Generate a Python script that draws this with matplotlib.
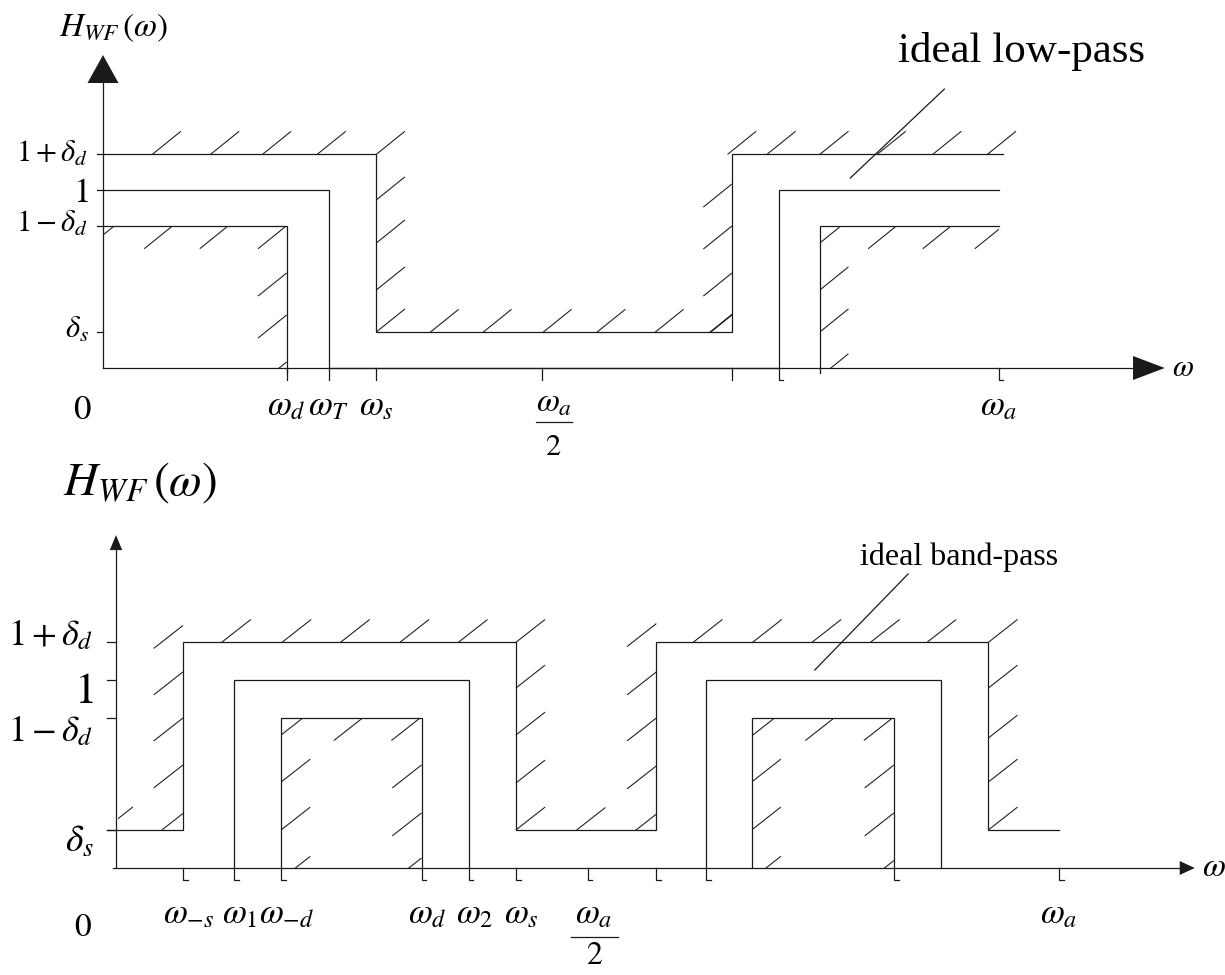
import numpy as np
import matplotlib
matplotlib.use("Agg")
import matplotlib.pyplot as plt
from matplotlib.collections import LineCollection
from matplotlib.patches import Rectangle, Polygon

plt.rcParams["font.family"] = "Liberation Serif"
plt.rcParams["mathtext.fontset"] = "stix"

INK = "#1a1a1a"
LW = 0.9

# tolerance levels of the magnitude response
delta_d = 0.2          # pass-band ripple
delta_s = 0.2          # stop-band level
lv_hi, lv_one, lv_lo = 1 + delta_d, 1.0, 1 - delta_d

# ---- low-pass template (frequencies as fractions of omega_a) ----
lp_w_d, lp_w_T, lp_w_s = 0.205, 0.252, 0.305
lp_half = 0.49
lp_img_s, lp_img_T, lp_img_d = 0.702, 0.754, 0.800    # image band around omega_a
lp_w_a = 1.0
lp_ticks = [lp_w_d, lp_w_T, lp_w_s, lp_half, lp_img_s, lp_img_T, lp_w_a]
lp_feet = [False, False, False, False, False, True, True]
lp_xlabels = [r"$\omega_d$", r"$\omega_T$", r"$\omega_s$"]

# ---- band-pass template ----
bp_w_ms, bp_w_1, bp_w_md = 0.071, 0.125, 0.175
bp_w_d, bp_w_2, bp_w_s = 0.324, 0.374, 0.424
bp_half = 0.5
bp_img_s, bp_img_2, bp_img_d = 0.573, 0.626, 0.674
bp_img_md, bp_img_1, bp_img_ms = 0.825, 0.875, 0.925
bp_w_a = 1.0
bp_ticks = [bp_w_ms, bp_w_1, bp_w_md, bp_w_d, bp_w_2, bp_w_s, bp_half,
            bp_img_s, bp_img_2, bp_img_md, bp_w_a]
bp_xlabels = [r"$\omega_{-s}$", r"$\omega_1$", r"$\omega_{-d}$",
              r"$\omega_d$", r"$\omega_2$", r"$\omega_s$"]

level_labels = [r"$1+\delta_d$", "$1$", r"$1-\delta_d$", r"$\delta_s$"]
levels = [lv_hi, lv_one, lv_lo, delta_s]

# hatch stroke anchors along the template edges
lp_top_left = [0.055, 0.120, 0.178, 0.239, 0.305]
lp_stop_rise = [0.944, 0.702, 0.438, 0.202]
lp_stop_floor = [0.365, 0.424, 0.491, 0.551, 0.616, 0.677]
lp_stop_fall = [1.034, 0.798, 0.534, 0.298]
lp_top_right = [0.697, 0.741, 0.800, 0.864, 0.926, 0.987]
lp_pass_top = [0.013, 0.078, 0.140, 0.205]
lp_pass_edge = [0.534, 0.298, 0.034]
lp_img_edge = [0.702, 0.438, 0.202, -0.05]
lp_img_top = [0.886, 0.947, 1.005]

bp_left_edge = [1.29, 1.043, 0.798, 0.548, 0.29]
bp_top_left = [0.112, 0.176, 0.238, 0.301, 0.363, 0.424]
bp_stop_rise = [0.957, 0.707, 0.452, 0.202]
bp_stop_floor = [0.488, 0.551]
bp_stop_fall = [1.30, 1.043, 0.798, 0.543]
bp_top_right = [0.612, 0.675, 0.738, 0.800, 0.860, 0.925]
bp_right_edge = [0.957, 0.691, 0.457, 0.202]
bp_box1_left = [0.707, 0.457, 0.202, -0.06]
bp_box1_top = [0.262, 0.323]
bp_box1_right = [0.548, 0.293, 0.053]
bp_box2_left = [0.702, 0.457, 0.202, -0.06]
bp_box2_top = [0.762, 0.824]
bp_box2_right = [0.548, 0.293, 0.04]


def line(ax, xs, ys, **kw):
    ax.plot(xs, ys, color=INK, lw=LW, solid_joinstyle="miter", **kw)


def hatch(ax, anchors, stroke, sense=1, box=None):
    dx, dy = stroke
    segs = []
    for x, y in anchors:
        if sense > 0:
            segs.append([(x, y), (x + dx, y + dy)])
        else:
            segs.append([(x - dx, y - dy), (x, y)])
    lc = LineCollection(segs, colors=INK, linewidths=LW * 0.85)
    ax.add_collection(lc)
    if box is not None:
        x0, x1, y0, y1 = box
        lc.set_clip_path(Rectangle((x0, y0), x1 - x0, y1 - y0,
                                   transform=ax.transData))


def along_x(xs, y):
    return [(x, y) for x in xs]


def along_y(x, ys):
    return [(x, y) for y in ys]


def axes_frame(ax, x_end, x_tip, x_half, y_end, y_tip, y_half, x_start=0.0):
    line(ax, [x_start, x_end], [0, 0])
    line(ax, [0, 0], [0, y_end])
    ax.add_patch(Polygon([(x_end, -x_half), (x_tip, 0), (x_end, x_half)],
                         closed=True, color=INK, lw=0))
    ax.add_patch(Polygon([(-y_half, y_end), (0, y_tip), (y_half, y_end)],
                         closed=True, color=INK, lw=0))


def x_ticks(ax, ticks, feet, depth, foot):
    for x, f in zip(ticks, feet):
        if f:
            line(ax, [x, x, x + foot], [0, -depth, -depth])
        else:
            line(ax, [x, x], [0, -depth])


def fraction(ax, x, y_num, y_bar, y_den, half_w, size):
    ax.text(x, y_num, r"$\omega_a$", fontsize=size, ha="center", va="baseline")
    line(ax, [x - half_w, x + half_w], [y_bar, y_bar])
    ax.text(x, y_den, "$2$", fontsize=size - 2, ha="center", va="center")


fig = plt.figure(figsize=(12.25, 9.75), dpi=100)

# ------------------------------------------------------------ low-pass
ax1 = fig.add_axes([0, 505 / 975, 1, 470 / 975])
ax1.set_xlim(-103 / 896, 1122 / 896)
ax1.set_ylim(-102 / 178, 368 / 178)
ax1.axis("off")

axes_frame(ax1, 1.1496, 1.185, 0.0674, 1.601, 1.758, 0.0173)
for lv in levels:
    line(ax1, [-0.0067, 0], [lv, lv])

# tolerance bounds and ideal response
line(ax1, [0, lp_w_s, lp_w_s, lp_img_s, lp_img_s, lp_w_a + 0.004],
     [lv_hi, lv_hi, delta_s, delta_s, lv_hi, lv_hi])
line(ax1, [0, lp_w_T, lp_w_T, lp_img_T, lp_img_T, lp_w_a],
     [lv_one, lv_one, 0, 0, lv_one, lv_one])
line(ax1, [0, lp_w_d, lp_w_d], [lv_lo, lv_lo, -0.02])
line(ax1, [lp_img_d, lp_img_d, lp_w_a], [-0.03, lv_lo, lv_lo])
x_ticks(ax1, lp_ticks, lp_feet, 0.067, 0.005)

s1 = (0.032, 0.13)
hatch(ax1, along_x(lp_top_left, lv_hi), s1)
hatch(ax1, along_y(lp_w_s, lp_stop_rise), s1)
hatch(ax1, along_x(lp_stop_floor, delta_s), s1, box=(0, lp_img_s, 0, 3))
hatch(ax1, along_y(lp_img_s, lp_stop_fall), s1, -1, box=(0, 2, delta_s, 3))
hatch(ax1, along_x(lp_top_right, lv_hi), s1)
hatch(ax1, along_x(lp_pass_top, lv_lo), s1, -1, box=(0.001, lp_w_d, 0, lv_lo))
hatch(ax1, along_y(lp_w_d, lp_pass_edge), s1, -1, box=(0, lp_w_d, 0, lv_lo))
hatch(ax1, along_y(lp_img_d, lp_img_edge), s1, box=(lp_img_d, lp_w_a, 0, lv_lo))
hatch(ax1, along_x(lp_img_top, lv_lo), s1, -1, box=(lp_img_d, lp_w_a, 0, lv_lo))

# leader to the ideal curve
line(ax1, [0.834, 0.939], [1.067, 1.567])
ax1.text(0.887, 1.719, "ideal low-pass", fontsize=31, ha="left", va="baseline")

ax1.text(0.012, 1.91, r"$H_{WF}\,(\omega)$", fontsize=24, ha="center", va="center")
for lab, lv, off, fs in zip(level_labels, levels, [0.04, 0.067, 0.034, 0.028],
                            [22, 25, 22, 22]):
    ax1.text(-0.016, lv - off, lab, fontsize=fs, ha="right", va="baseline")
ax1.text(-0.0234, -0.236, "$0$", fontsize=25, ha="center", va="center")
for x, lab in zip(lp_ticks[:3], lp_xlabels):
    ax1.text(x, -0.264, lab, fontsize=25, ha="center", va="baseline")
ax1.text(lp_w_a, -0.264, r"$\omega_a$", fontsize=25, ha="center", va="baseline")
fraction(ax1, lp_half + 0.013, -0.247, -0.303, -0.444, 0.02, 24)
ax1.text(1.205, 0.0, r"$\omega$", fontsize=22, ha="center", va="center")

# ------------------------------------------------------------ band-pass
ax2 = fig.add_axes([0, 0, 1, 505 / 975])
ax2.set_xlim(-116 / 943, 1109 / 943)
ax2.set_ylim(-107 / 188, 398 / 188)
ax2.axis("off")

axes_frame(ax2, 1.128, 1.144, 0.037, 1.691, 1.771, 0.0066, x_start=-0.003)
for lv in levels:
    line(ax2, [-0.0095, 0], [lv, lv])

line(ax2, [-0.0095, bp_w_ms, bp_w_ms, bp_w_s, bp_w_s, bp_img_s, bp_img_s,
           bp_img_ms, bp_img_ms, bp_w_a],
     [delta_s, delta_s, lv_hi, lv_hi, delta_s, delta_s, lv_hi, lv_hi,
      delta_s, delta_s])
line(ax2, [bp_w_1, bp_w_1, bp_w_2, bp_w_2], [0, lv_one, lv_one, 0])
line(ax2, [bp_img_2, bp_img_2, bp_img_1, bp_img_1], [0, lv_one, lv_one, 0])
line(ax2, [bp_w_md, bp_w_md, bp_w_d, bp_w_d], [0, lv_lo, lv_lo, 0])
line(ax2, [bp_img_d, bp_img_d, bp_img_md, bp_img_md], [0, lv_lo, lv_lo, 0])
x_ticks(ax2, bp_ticks, [True] * len(bp_ticks), 0.064, 0.005)

s2 = (0.031, 0.122)
hatch(ax2, along_y(bp_w_ms, bp_left_edge), s2, -1, box=(0, 2, delta_s, 3))
hatch(ax2, [(0.002, 0.262)], s2, box=(0.002, 0.018, 0, 3))
hatch(ax2, along_x(bp_top_left, lv_hi), s2)
hatch(ax2, along_y(bp_w_s, bp_stop_rise), s2)
hatch(ax2, along_x(bp_stop_floor, delta_s), s2, box=(0, bp_img_s, 0, 3))
hatch(ax2, along_y(bp_img_s, bp_stop_fall), s2, -1, box=(0, 2, delta_s, 3))
hatch(ax2, along_x(bp_top_right, lv_hi), s2)
hatch(ax2, along_y(bp_img_ms, bp_right_edge), s2)
b1 = (bp_w_md, bp_w_d, 0, lv_lo)
hatch(ax2, along_y(bp_w_md, bp_box1_left), s2, box=b1)
hatch(ax2, along_x(bp_box1_top, lv_lo), s2, -1, box=b1)
hatch(ax2, along_y(bp_w_d, bp_box1_right), s2, -1, box=b1)
b2 = (bp_img_d, bp_img_md, 0, lv_lo)
hatch(ax2, along_y(bp_img_d, bp_box2_left), s2, box=b2)
hatch(ax2, along_x(bp_box2_top, lv_lo), s2, -1, box=b2)
hatch(ax2, along_y(bp_img_md, bp_box2_right), s2, -1, box=b2)

line(ax2, [0.741, 0.840], [1.053, 1.564])
ax2.text(0.789, 1.612, "ideal band-pass", fontsize=23, ha="left", va="baseline")

ax2.text(0.025, 1.984, r"$H_{WF}\,(\omega)$", fontsize=34, ha="center", va="baseline")
for lab, lv, off, fs in zip(level_labels, levels, [0.016, 0.122, 0.128, 0.117],
                            [26, 32, 26, 27]):
    ax2.text(-0.024, lv - off, lab, fontsize=fs, ha="right", va="baseline")
ax2.text(-0.035, -0.319, "$0$", fontsize=24, ha="center", va="center")
for x, lab in zip(bp_ticks[:6], bp_xlabels):
    ax2.text(x + 0.006, -0.293, lab, fontsize=25, ha="center", va="baseline")
ax2.text(bp_w_a, -0.293, r"$\omega_a$", fontsize=25, ha="center", va="baseline")
fraction(ax2, bp_half + 0.007, -0.293, -0.367, -0.473, 0.025, 25)
ax2.text(1.152, 0.0, r"$\omega$", fontsize=24, ha="left", va="center")

fig.savefig("out.png", dpi=100)
